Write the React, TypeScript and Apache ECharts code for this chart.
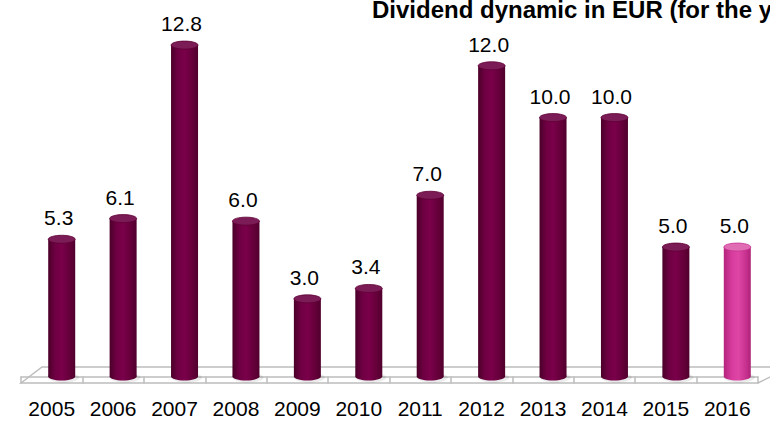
import React, { useEffect, useRef } from "react";
import * as echarts from "echarts";

const years = ["2005", "2006", "2007", "2008", "2009", "2010", "2011", "2012", "2013", "2014", "2015", "2016"];
const dividends = [5.3, 6.1, 12.8, 6.0, 3.0, 3.4, 7.0, 12.0, 10.0, 10.0, 5.0, 5.0];
const highlightIndex = [11];
const titleText = "Dividend dynamic in EUR (for the year)";

const maroonBody = new echarts.graphic.LinearGradient(0, 0, 1, 0, [
  { offset: 0, color: "#4a0029" },
  { offset: 0.25, color: "#6e0042" },
  { offset: 0.5, color: "#7a004a" },
  { offset: 0.8, color: "#640039" },
  { offset: 1, color: "#50002d" },
]);
const maroonTop = "#7c1c56";
const pinkBody = new echarts.graphic.LinearGradient(0, 0, 1, 0, [
  { offset: 0, color: "#b3247c" },
  { offset: 0.3, color: "#d83c9e" },
  { offset: 0.55, color: "#de46a6" },
  { offset: 0.85, color: "#c52f8c" },
  { offset: 1, color: "#ad2277" },
]);
const pinkTop = "#e06cb4";

export default function App() {
  const ref = useRef<HTMLDivElement>(null);
  useEffect(() => {
    if (!ref.current) return;
    const chart = echarts.init(ref.current, undefined, { renderer: "svg" });
    const data = dividends.map((v, i) => [i, v]);
    chart.setOption({
      animation: false,
      backgroundColor: "#ffffff",
      grid: { left: 21, right: 12, top: 14, bottom: 39 },
      xAxis: {
        type: "category",
        data: years,
        boundaryGap: true,
        axisLine: { show: true, lineStyle: { color: "#bdbdbd", width: 1.5 } },
        axisTick: { show: true, length: 7, lineStyle: { color: "#bdbdbd", width: 1.5 } },
        axisLabel: { color: "#000", fontSize: 21, fontFamily: "Arial, 'Liberation Sans'", margin: 15 },
        z: 3,
      },
      yAxis: {
        type: "value",
        min: -0.25,
        max: 14,
        show: false,
        splitLine: { show: false },
      },
      graphic: [
        {
          type: "polygon",
          z: 1,
          shape: { points: [[21, 383], [42, 367], [790, 367], [758, 383]] },
          style: { fill: "#ffffff", stroke: "#bdbdbd", lineWidth: 1.5 },
        },
        {
          type: "text",
          x: 372,
          y: -3,
          z: 10,
          style: {
            text: titleText,
            fill: "#000",
            font: "bold 24px Arial, 'Liberation Sans'",
            textVerticalAlign: "top",
          },
        },
      ],
      series: [
        {
          type: "custom",
          z: 5,
          data,
          renderItem: (params: any, api: any) => {
            const i = api.value(0);
            const v = api.value(1);
            const top = api.coord([i, v]);
            const base = api.coord([i, 0]);
            const bw = 27;
            const cx = top[0] + 10;
            const ry = 4;
            const hi = highlightIndex.indexOf(i) >= 0;
            const body = hi ? pinkBody : maroonBody;
            const topFill = hi ? pinkTop : maroonTop;
            return {
              type: "group",
              children: [
                {
                  type: "ellipse",
                  shape: { cx: cx + 2, cy: base[1] + 1, rx: bw / 2 + 2, ry: ry + 1 },
                  style: { fill: "rgba(0,0,0,0.08)" },
                },
                {
                  type: "rect",
                  shape: { x: cx - bw / 2, y: top[1], width: bw, height: base[1] - top[1] },
                  style: { fill: body },
                },
                {
                  type: "ellipse",
                  shape: { cx, cy: base[1], rx: bw / 2, ry },
                  style: { fill: body },
                },
                {
                  type: "ellipse",
                  shape: { cx, cy: top[1], rx: bw / 2, ry },
                  style: { fill: topFill, stroke: hi ? "#c93292" : "#5e0036", lineWidth: 0.8 },
                },
                {
                  type: "text",
                  x: cx - 3,
                  y: top[1] - 11,
                  style: {
                    text: v.toFixed(1),
                    fill: "#000",
                    font: "21px Arial, 'Liberation Sans'",
                    textAlign: "center",
                    textVerticalAlign: "bottom",
                  },
                },
              ],
            };
          },
        },
      ],
    });
    return () => chart.dispose();
  }, []);
  return <div ref={ref} style={{ position: "fixed", left: 0, top: 0, width: 770, height: 422 }} />;
}
